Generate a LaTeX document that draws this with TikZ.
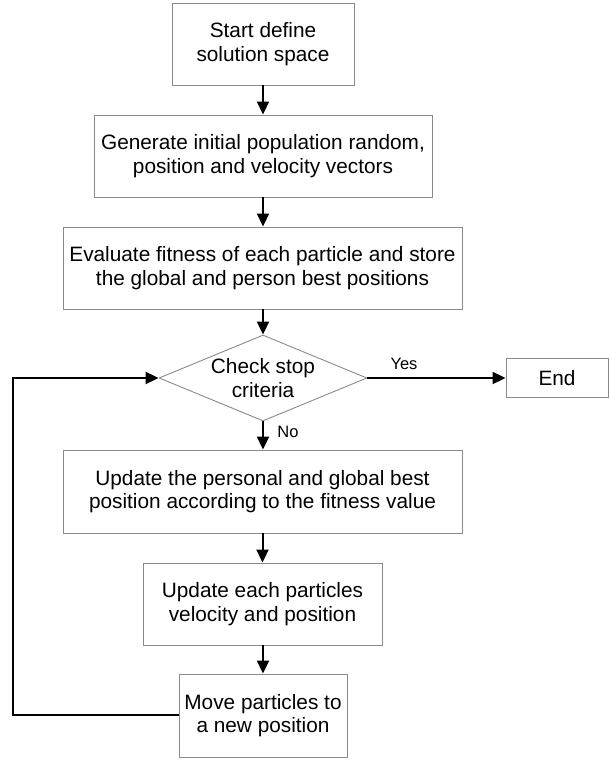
\documentclass[tikz,border=0pt]{standalone}
\usepackage{fontspec}
\setmainfont{Liberation Sans}
\usetikzlibrary{arrows.meta,shapes.geometric}
\definecolor{edgegray}{HTML}{8A8A8A}
\begin{document}
\begin{tikzpicture}[x=1pt,y=1pt,
  box/.style={draw=edgegray, line width=0.9pt, fill=white, inner sep=0pt,
    align=center, font=\fontsize{20.8}{23.5}\selectfont},
  decision/.style={diamond, draw=edgegray, line width=0.9pt, inner sep=0pt},
  txt/.style={inner sep=0pt, align=center, font=\fontsize{20.8}{23.5}\selectfont},
  flow/.style={draw=black, line width=2pt, line join=miter,
    -{Triangle[length=13pt,width=12pt]}},
  lbl/.style={inner sep=0pt, font=\fontsize{16.5}{19}\selectfont}]
\useasboundingbox (0,0) rectangle (610,760);

% process steps
\node[box, minimum width=182pt, minimum height=82pt] (start) at (263,716)
  {Start define\\solution space};
\node[box, minimum width=338pt, minimum height=82pt] (init) at (263,604)
  {Generate initial population random,\\position and velocity vectors};
\node[box, minimum width=399pt, minimum height=82pt] (eval) at (262.5,492)
  {Evaluate fitness of each particle and store\\the global and person best positions};
\node[decision, minimum width=208pt, minimum height=86pt] (chk) at (263,382) {};
\node[txt] (chktext) at (chk.center) {Check stop\\criteria};
\node[box, minimum width=102pt, minimum height=39pt] (end) at (557,382) {End};
\node[box, minimum width=399pt, minimum height=83pt] (upd) at (262.5,268.5)
  {Update the personal and global best\\position according to the fitness value};
\node[box, minimum width=239pt, minimum height=82pt] (vel) at (262.5,156)
  {Update each particles\\velocity and position};
\node[box, minimum width=168pt, minimum height=83pt] (move) at (263,44.5)
  {Move particles to\\a new position};

% branch labels
\node[lbl] (yes) at (404,396) {Yes};
\node[lbl] (no) at (288,328) {No};

% connectors
\draw[flow] (start.south) -- (init.north -| start.south);
\draw[flow] (init.south) -- (eval.north -| init.south);
\draw[flow] (eval.south -| chk.north) -- (chk.north);
\draw[flow] (chk.east) -- (end.west);
\draw[flow] (chk.south) -- (upd.north -| chk.south);
\draw[flow] (upd.south) -- (vel.north);
\draw[flow] (vel.south -| move.north) -- (move.north);

% loop back to the decision
\coordinate (loopx) at (12.7,0);
\draw[flow] (move.west) -- (move.west -| loopx) |- (chk.west);
\end{tikzpicture}
\end{document}
